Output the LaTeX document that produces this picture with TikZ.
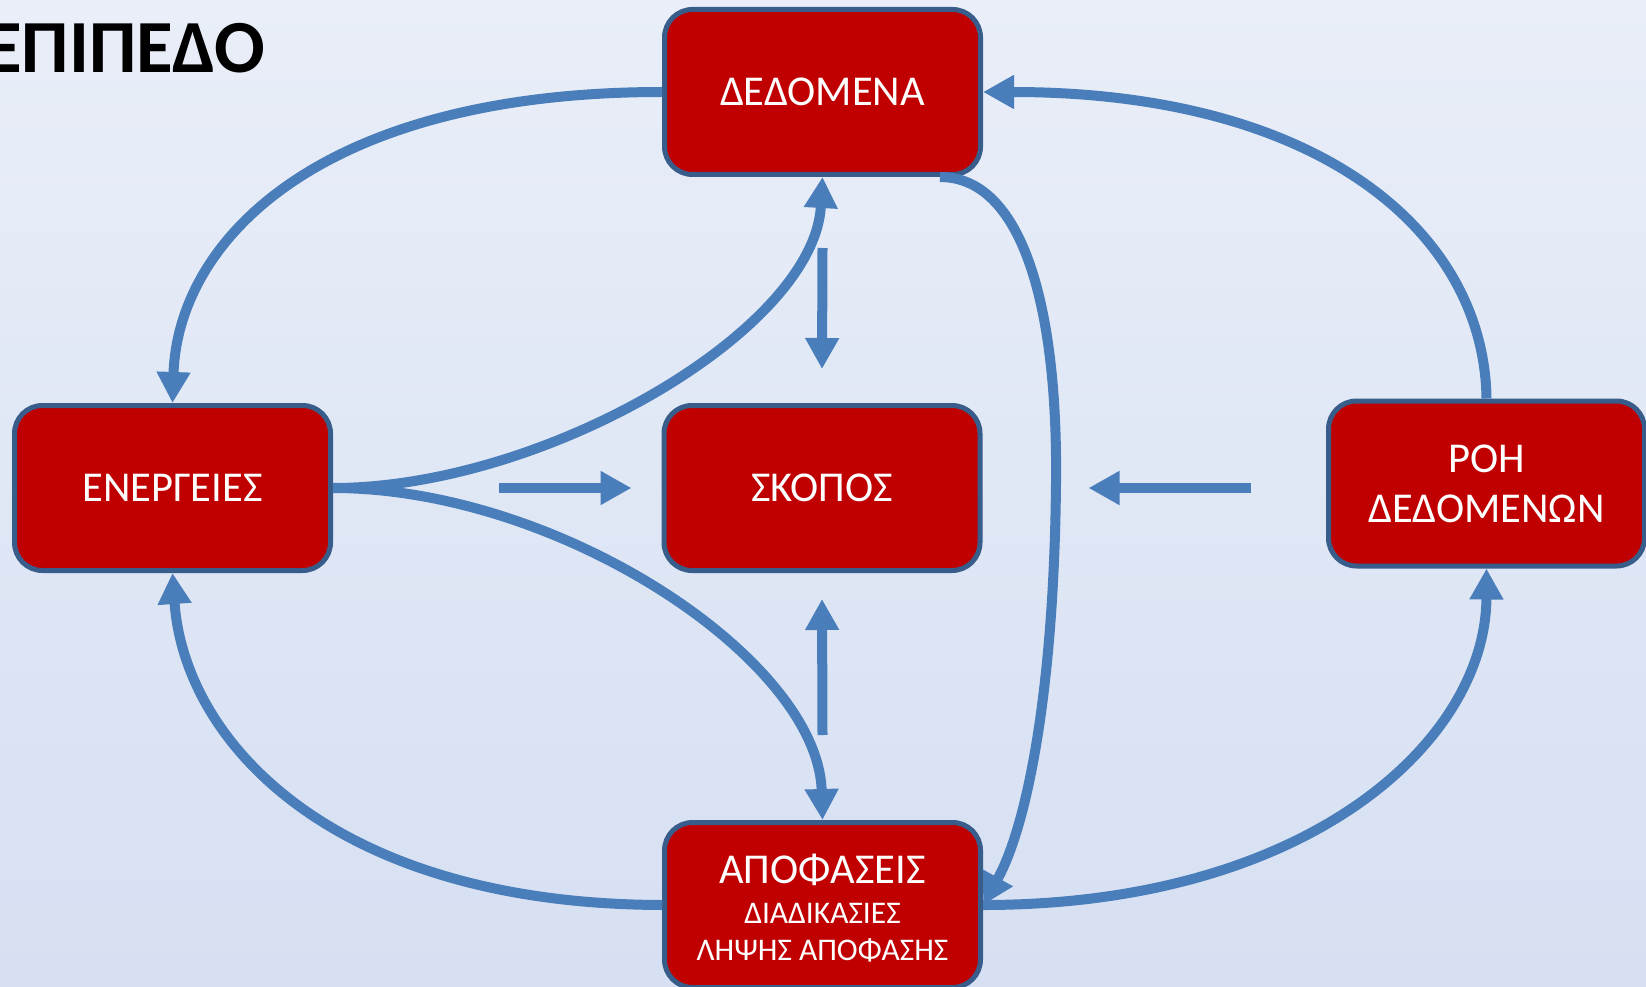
\documentclass[tikz,border=0pt]{standalone}
\usepackage{fontspec}
\setmainfont{Carlito}
\usetikzlibrary{arrows.meta,calc}
\definecolor{boxred}{HTML}{C00000}
\definecolor{boxborder}{HTML}{385D8A}
\definecolor{arrowblue}{HTML}{4A7EBB}
\definecolor{bgtop}{HTML}{E9EEF8}
\definecolor{bgmid}{HTML}{C2D2EC}
\definecolor{bgbot}{HTML}{D6E0F2}
\begin{document}
\begin{tikzpicture}[x=1pt,y=-1pt,
  box/.style={draw=boxborder, line width=5pt, fill=boxred, rounded corners=28pt,
    minimum width=316pt, minimum height=165pt, text=white,
    font=\fontsize{42.5}{50}\selectfont, align=center, inner sep=0pt},
  boxtext/.style={text=white, inner sep=0pt, font=\fontsize{42.5}{50}\selectfont},
  smalltext/.style={text=white, inner sep=0pt, font=\fontsize{31.5}{36}\selectfont},
  conn/.style={draw=arrowblue, line width=10pt},
  arrowed/.style={-{Triangle[length=31pt,width=32pt]}}
]
\useasboundingbox (0,0) rectangle (1646,987);
\shade[top color=bgtop, middle color=bgmid, bottom color=bgbot] (0,0) rectangle (1646,987);

\node[anchor=base east, inner sep=0pt, font=\fontsize{75}{85}\selectfont\bfseries] (title) at (265,73) {ΕΠΙΠΕΔΟ};

\node[box] (dat) at (822.5,92) {ΔΕΔΟΜΕΝΑ};
\node[box] (ene) at (172.5,488) {ΕΝΕΡΓΕΙΕΣ};
\node[box] (sko) at (822,488) {ΣΚΟΠΟΣ};
\node[box] (roh) at (1486.5,483.5) {ΡΟΗ\\ΔΕΔΟΜΕΝΩΝ};
\node[box] (apo) at (822.5,905) {};
\node[boxtext, anchor=base] (apo1) at (822.5,883) {ΑΠΟΦΑΣΕΙΣ};
\node[smalltext, anchor=base] (apo2) at (822.5,923) {ΔΙΑΔΙΚΑΣΙΕΣ};
\node[smalltext, anchor=base] (apo3) at (822.5,960) {ΛΗΨΗΣ ΑΠΟΦΑΣΗΣ};

\coordinate (k7) at (1056,483);

% curved connectors
\draw[conn,arrowed] (dat.west) .. controls (320,92) and (178,240) .. (ene.north);
\draw[conn,arrowed] (roh.north) .. controls (1484,232) and (1320,92) .. (dat.east);
\draw[conn,arrowed] (ene.east) .. controls (545,488) and (814,330) .. (dat.south);
\draw[conn,arrowed] (ene.east) .. controls (560,488) and (818,660) .. (apo.north);
\draw[conn,arrowed] (apo.west) .. controls (330,904) and (184,740) .. (ene.south);
\draw[conn,arrowed] (apo.east) .. controls (1310,905) and (1486,740) .. (roh.south);
\draw[conn,arrowed] ([xshift=-43pt]dat.south east) .. controls (1020,177) and (1058,300) .. (k7)
   .. controls (1054,700) and (1025,830) .. (apo.east);

% straight arrows to the centre
\draw[conn,arrowed] ($(dat.south)+(0,71)$) -- ($(sko.north)+(0,-34)$);
\draw[conn,arrowed] ($(apo.north)+(0,-85)$) -- ($(sko.south)+(0,26)$);
\draw[conn,arrowed] ($(ene.east)+(166,0)$) -- ($(sko.west)+(-30,0)$);
\draw[conn,arrowed] ($(roh.west |- sko.east)+(-75,0)$) -- ($(sko.east)+(106,0)$);
\end{tikzpicture}
\end{document}
